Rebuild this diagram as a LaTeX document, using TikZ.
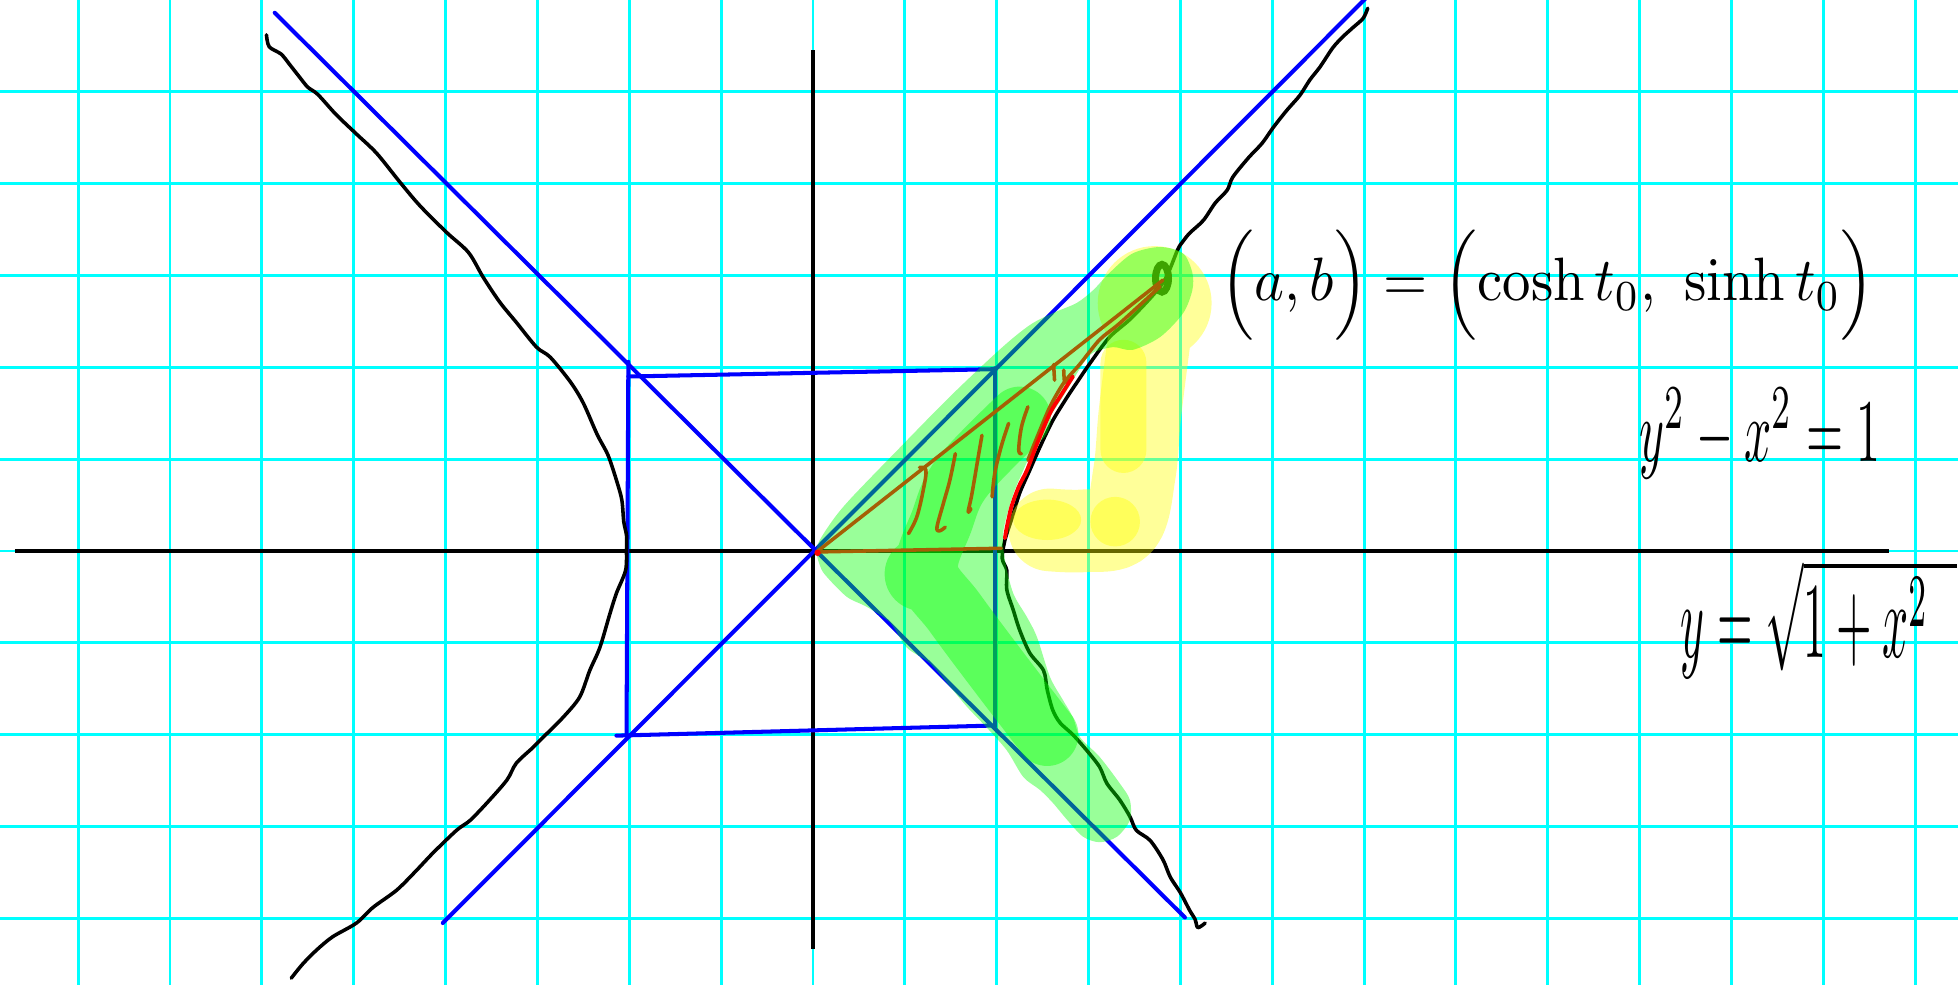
\documentclass[tikz,border=0pt]{standalone}
\usepackage{amsmath}
\usepackage{graphicx}
\definecolor{brn}{RGB}{165,95,5}
\definecolor{gcyan}{RGB}{0,255,255}
\definecolor{hlyel}{RGB}{255,255,0}
\definecolor{hlgrn}{RGB}{0,255,0}
\definecolor{pblue}{RGB}{0,0,255}
\definecolor{pred}{RGB}{255,0,0}
\begin{document}
\begin{tikzpicture}[x=1cm,y=1cm,
  gridl/.style={gcyan, line width=0.9pt},
  axisl/.style={black, line width=1pt},
  asym/.style={pblue, line width=1.25pt, line cap=round},
  hyp/.style={black, line width=1.1pt, line cap=round, line join=round},
  brl/.style={draw=brn, line width=1.1pt, line cap=round, line join=round},
  redl/.style={draw=pred, line width=1.2pt, line cap=round, line join=round},
  eq/.style={inner sep=0pt, outer sep=0pt}
]
\useasboundingbox (-8.851,-4.714) rectangle (12.466,5.999);
\clip (-8.851,-4.714) rectangle (12.466,5.999);
\fill[white] (-8.851,-4.714) rectangle (12.466,5.999);
% grid
\foreach \gx in {-8,...,12} \draw[gridl] (\gx,-4.8) -- (\gx,6.1);
\foreach \gy in {-4,...,5} \draw[gridl] (-8.9,\gy) -- (12.5,\gy);
% axes
\draw[axisl] (-8.69,0) -- (11.71,0);
\draw[axisl] (0,5.45) -- (0,-4.33);
% asymptotes
\draw[asym] (-5.86,5.86) -- (4.05,-3.99);
\draw[asym] (-4.03,-4.05) -- (6.1,6.1);
% rectangle
\draw[asym] (-2.01,2.06) -- (-2.03,-2.01);
\draw[asym] (-2.01,1.90) -- (1.99,1.98);
\draw[asym] (-2.14,-2.01) -- (1.96,-1.90);
\draw[asym] (1.98,1.99) -- (1.98,-1.91);
% hyperbola, right branch
\draw[hyp] plot[smooth, tension=0.5] coordinates {(6.04,5.91) (5.99,5.80) (5.88,5.70) (5.77,5.60) (5.66,5.48) (5.52,5.27) (5.41,5.13) (5.30,4.96) (5.16,4.80) (5.01,4.61) (4.89,4.44) (4.74,4.28) (4.57,4.07) (4.51,3.93) (4.38,3.79) (4.25,3.60) (4.10,3.46) (4.02,3.36) (3.97,3.28) (3.81,2.92) (3.48,2.55) (3.23,2.33) (3.02,2.05) (2.87,1.83) (2.77,1.68) (2.61,1.42) (2.47,1.13) (2.36,0.88) (2.25,0.63) (2.17,0.37) (2.09,0.12) (2.06,-0.08) (2.11,-0.21) (2.11,-0.42) (2.18,-0.64) (2.25,-0.86) (2.36,-1.11) (2.51,-1.30) (2.55,-1.51) (2.61,-1.73) (2.69,-1.87) (2.83,-2.00) (2.98,-2.17) (3.12,-2.35) (3.20,-2.53) (3.34,-2.71) (3.45,-2.89) (3.52,-3.04) (3.67,-3.15) (3.81,-3.36) (3.89,-3.55) (4.00,-3.72) (4.10,-3.91) (4.16,-4.01) (4.19,-4.10) (4.27,-4.05)};
% hyperbola, left branch
\draw[hyp] plot[smooth, tension=0.5] coordinates {(-5.95,5.62) (-5.92,5.49) (-5.79,5.41) (-5.70,5.30) (-5.59,5.16) (-5.50,5.05) (-5.39,4.97) (-5.19,4.75) (-4.97,4.54) (-4.75,4.33) (-4.50,4.02) (-4.28,3.76) (-3.99,3.47) (-3.75,3.25) (-3.59,2.98) (-3.41,2.71) (-3.23,2.49) (-3.01,2.22) (-2.86,2.11) (-2.64,1.84) (-2.50,1.61) (-2.35,1.27) (-2.23,1.04) (-2.13,0.74) (-2.08,0.55) (-2.06,0.32) (-2.03,0.17) (-2.03,0.02) (-2.04,-0.21) (-2.14,-0.46) (-2.21,-0.68) (-2.32,-1.05) (-2.43,-1.30) (-2.54,-1.59) (-2.72,-1.81) (-2.94,-2.03) (-3.05,-2.14) (-3.23,-2.31) (-3.33,-2.49) (-3.52,-2.71) (-3.73,-2.93) (-3.88,-3.04) (-4.14,-3.29) (-4.31,-3.47) (-4.53,-3.69) (-4.79,-3.88) (-4.97,-4.05) (-5.23,-4.20) (-5.40,-4.34) (-5.55,-4.49) (-5.68,-4.65)};
% the point (a,b)
\draw[black, line width=2.2pt] (3.80,2.97) ellipse [x radius=0.07, y radius=0.15];
% yellow highlight, first stroke
\begin{scope}[transparency group, opacity=0.4]
  \fill[hlyel] (3.72,2.70) circle (0.62);
  \draw[hlyel, line width=0.9cm, line cap=round, line join=round] plot[smooth, tension=0.6] coordinates {(3.66,2.30) (3.56,1.50) (3.50,0.85) (3.36,0.30) (2.95,0.22) (2.58,0.23)};
\end{scope}
% yellow highlight, second stroke
\begin{scope}[transparency group, opacity=0.4]
  \draw[hlyel, line width=0.5cm, line cap=round] (3.38,2.05) -- (3.38,1.10);
  \fill[hlyel] (3.29,0.32) circle (0.27);
  \fill[hlyel] (2.55,0.34) ellipse [x radius=0.37, y radius=0.22];
\end{scope}
% green highlight, first layer
\begin{scope}[transparency group, opacity=0.4]
  \fill[hlgrn] plot[smooth cycle, tension=0.5] coordinates {(0.04,0.04) (0.19,0.30) (0.40,0.56) (0.95,1.13) (1.49,1.68) (2.04,2.20) (2.36,2.46) (2.61,2.59) (2.87,2.70) (3.05,2.84) (3.23,3.03) (3.48,3.24) (3.78,3.31) (4.03,3.24) (4.13,3.03) (4.13,2.84) (4.03,2.59) (3.78,2.33) (3.48,2.19) (3.27,2.22) (3.05,2.16) (2.94,2.04) (2.83,1.86) (2.72,1.68) (2.58,1.46) (2.44,1.21) (2.29,0.88) (2.17,0.59) (2.07,0.20) (2.09,-0.10) (2.18,-0.46) (2.33,-0.72) (2.44,-0.94) (2.58,-1.37) (2.72,-1.62) (2.83,-1.81) (2.91,-2.03) (3.12,-2.24) (3.34,-2.53) (3.45,-2.71) (3.45,-2.93) (3.31,-3.11) (3.12,-3.17) (2.94,-3.11) (2.77,-2.93) (2.61,-2.74) (2.47,-2.60) (2.29,-2.46) (2.11,-2.17) (1.89,-1.92) (1.68,-1.70) (1.52,-1.51) (1.27,-1.22) (1.02,-1.05) (0.84,-0.78) (0.59,-0.61) (0.37,-0.50) (0.15,-0.28) (0.08,-0.17)};
\end{scope}
% green highlight, second layer
\begin{scope}[transparency group, opacity=0.4]
  \draw[hlgrn, line width=0.68cm, line cap=round, line join=round] plot[smooth, tension=0.6] coordinates {(2.25,1.45) (1.62,0.80) (1.40,0.32) (1.24,-0.22) (1.55,-0.68) (2.05,-1.35) (2.55,-2.00)};
  \fill[hlgrn] (1.18,-0.25) circle (0.40);
\end{scope}
% brown lines
\draw[brl] (0.04,-0.01) -- (3.81,2.95);
\draw[brl] (0.04,-0.01) -- (2.05,0.03);
\draw[brl] plot[smooth, tension=0.5] coordinates {(3.78,2.88) (3.34,2.48) (3.12,2.30) (2.91,2.04) (2.73,1.83) (2.58,1.57) (2.44,1.24) (2.34,0.99)};
% brown hatching
\draw[brl] plot[smooth, tension=0.6] coordinates {(1.16,0.91) (1.23,0.88) (1.20,0.66) (1.13,0.37) (1.04,0.19)};
\draw[brl] plot[smooth, tension=0.6] coordinates {(1.55,1.06) (1.49,0.77) (1.42,0.52) (1.35,0.26) (1.38,0.22) (1.44,0.26)};
\draw[brl] plot[smooth, tension=0.6] coordinates {(1.84,1.26) (1.80,1.03) (1.73,0.62) (1.69,0.43) (1.72,0.46)};
\draw[brl] plot[smooth, tension=0.6] coordinates {(2.13,1.39) (2.05,1.14) (1.98,0.85) (1.95,0.59)};
\draw[brl] plot[smooth, tension=0.6] coordinates {(2.34,1.57) (2.27,1.35) (2.24,1.10) (2.27,1.06)};
\draw[brl] (2.62,2.03) -- (2.63,1.86);
\draw[brl] plot[smooth, tension=0.6] coordinates {(2.73,1.97) (2.74,1.84) (2.77,1.87)};
% red arc and dot
\draw[redl] plot[smooth, tension=0.5] coordinates {(2.09,0.14) (2.11,0.26) (2.16,0.48) (2.24,0.70) (2.33,0.88) (2.44,1.17) (2.58,1.50) (2.69,1.68) (2.83,1.90)};
\fill[pred] (0.05,-0.02) circle (0.035);
% texts
\node[eq] (abeq) at (8.0,2.89) {\resizebox*{7.12cm}{1.2cm}{$\Bigl(a,b\Bigr)=\Bigl(\cosh t_0,\ \sinh t_0\Bigr)$}};
\node[eq] (hypeq) at (10.31,1.28) {\resizebox*{2.62cm}{0.98cm}{$y^2-x^2=1$}};
\node[eq] (rooteq) at (10.95,-0.74) {\resizebox*{3.0cm}{1.3cm}{$y=\sqrt{1+x^2\hspace{0.6em}}$}};
\end{tikzpicture}
\end{document}
